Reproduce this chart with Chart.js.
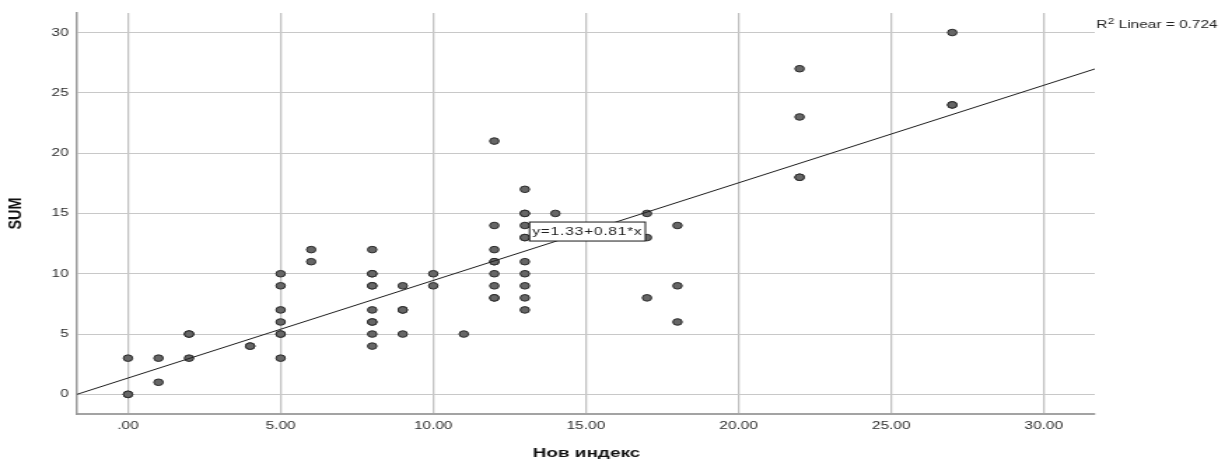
<!DOCTYPE html>
<html><head><meta charset="utf-8">
<script src="https://cdn.jsdelivr.net/npm/chart.js@4.4.0/dist/chart.umd.min.js"></script>
<style>
html,body{margin:0;padding:0;background:#fff;overflow:hidden;}
#wrap{width:874px;height:459px;transform:scaleX(1.4);transform-origin:0 0;}
canvas{display:block;}
</style></head><body>
<div id="wrap"><canvas id="c" width="874" height="459"></canvas></div>
<script>
// ---- data ----
const xValues = [0,0,0, 1,1, 2,2,2, 4,4, 5,5,5,5,5,5,5, 6,6,
  8,8,8,8,8,8,8,8,8,8, 9,9,9,9, 10,10, 11,
  12,12,12,12,12,12,12,12,12,
  13,13,13,13,13,13,13,13,13,13,13, 14,
  17,17,17, 18,18,18, 22,22,22,22, 27,27,27];
const yValues = [3,0,0, 3,1, 5,5,3, 4,4, 10,9,7,6,5,5,3, 12,11,
  12,10,10,9,9,7,6,6,5,4, 9,7,7,5, 10,9, 5,
  21,14,12,11,11,10,9,8,8,
  17,15,15,14,13,13,11,10,9,8,7, 15,
  15,13,8, 14,9,6, 27,23,18,18, 30,24,24];
const fitLineX = [-1.67, 31.67];
const fitLineY = [0.0, 26.98];
const xTickValues = [0,5,10,15,20,25,30];
const xTickLabels = ['.00','5.00','10.00','15.00','20.00','25.00','30.00'];
const yTickValues = [0,5,10,15,20,25,30];
const yTickLabels = ['0','5','10','15','20','25','30'];
const xTitle = 'Нов индекс';
const yTitle = 'SUM';
const eqText = 'y=1.33+0.81*x';
const eqAnchor = [15.05, 13.5];
const r2Label = ['R','2',' Linear = 0.724'];

const FONT = '"Liberation Sans", Arial, sans-serif';
const points = xValues.map((x,i)=>({x:x, y:yValues[i]}));
const fitLine = fitLineX.map((x,i)=>({x:x, y:fitLineY[i]}));

const annot = {
  id:'annot',
  afterDraw(chart){
    const ctx = chart.ctx, xs = chart.scales.x, ys = chart.scales.y;
    ctx.save();
    // equation box
    ctx.font = '11px ' + FONT;
    ctx.letterSpacing = '0.6px';
    const tw = ctx.measureText(eqText).width;
    const cx = xs.getPixelForValue(eqAnchor[0]);
    const cy = ys.getPixelForValue(eqAnchor[1]);
    const w = tw + 4, h = 19;
    ctx.fillStyle = '#fff';
    ctx.fillRect(cx - w/2, cy - h/2, w, h);
    ctx.strokeStyle = '#1a1a1a'; ctx.lineWidth = 1;
    ctx.strokeRect(cx - w/2, cy - h/2, w, h);
    ctx.fillStyle = '#222'; ctx.textAlign = 'left'; ctx.textBaseline = 'middle';
    ctx.fillText(eqText, cx - w/2 + 2, cy + 0.5);
    ctx.letterSpacing = '0px';

    // R^2 label
    ctx.fillStyle = '#222'; ctx.textBaseline = 'alphabetic';
    let px = chart.chartArea.right + 1, by = 27.5;
    ctx.font = '11px ' + FONT;
    ctx.fillText(r2Label[0], px, by); px += ctx.measureText(r2Label[0]).width + 0.3;
    ctx.font = '8.5px ' + FONT;
    ctx.fillText(r2Label[1], px, by - 4); px += ctx.measureText(r2Label[1]).width;
    ctx.font = '11px ' + FONT;
    ctx.fillText(r2Label[2], px, by);

    // x title
    ctx.font = 'bold 13.5px ' + FONT;
    ctx.textAlign = 'center';
    ctx.fillStyle = '#111';
    ctx.fillText(xTitle, 418.9, 457);

    // y title
    ctx.translate(11.3, 213.5);
    ctx.rotate(-Math.PI/2);
    ctx.scale(1, 0.9);
    ctx.textAlign = 'center'; ctx.textBaseline = 'middle';
    ctx.font = 'bold 14.5px ' + FONT;
    ctx.fillText(yTitle, 0, 0);
    ctx.restore();
  }
};

new Chart(document.getElementById('c'), {
  type: 'scatter',
  data: {
    datasets: [
      { type:'line', data: fitLine, borderColor:'#1e1e1e', borderWidth:1, pointRadius:0, fill:false, order:0 },
      { data: points, backgroundColor:'#666666', borderColor:'#2a2a2a', borderWidth:1, pointRadius:3.3, order:1 }
    ]
  },
  options: {
    responsive:false, animation:false, devicePixelRatio:1,
    layout:{ padding:{ top:13, right:92, left:0, bottom:0 } },
    plugins:{ legend:{display:false}, tooltip:{enabled:false} },
    scales:{
      x:{ type:'linear', min:-1.67, max:31.67,
        afterBuildTicks: s => { s.ticks = xTickValues.map(v=>({value:v})); },
        afterFit: s => { s.height = 45; },
        ticks:{ callback:(v)=>xTickLabels[xTickValues.indexOf(v)], font:{family:FONT, size:11}, color:'#2e2e2e', padding:5, maxRotation:0, autoSkip:false },
        grid:{ color:'#c2c2c2', lineWidth:1.3, drawTicks:false },
        border:{ display:true, color:'#a3a3a3', width:2 }
      },
      y:{ type:'linear', min:-1.63, max:31.62,
        afterBuildTicks: s => { s.ticks = yTickValues.map(v=>({value:v})); },
        afterFit: s => { s.width = 55; },
        ticks:{ callback:(v)=>yTickLabels[yTickValues.indexOf(v)], font:{family:FONT, size:11}, color:'#2e2e2e', padding:6, autoSkip:false },
        grid:{ color:'#c8c8c8', lineWidth:1, drawTicks:false },
        border:{ display:true, color:'#9a9a9a', width:1.5 }
      }
    }
  },
  plugins:[annot]
});
</script>
</body></html>
